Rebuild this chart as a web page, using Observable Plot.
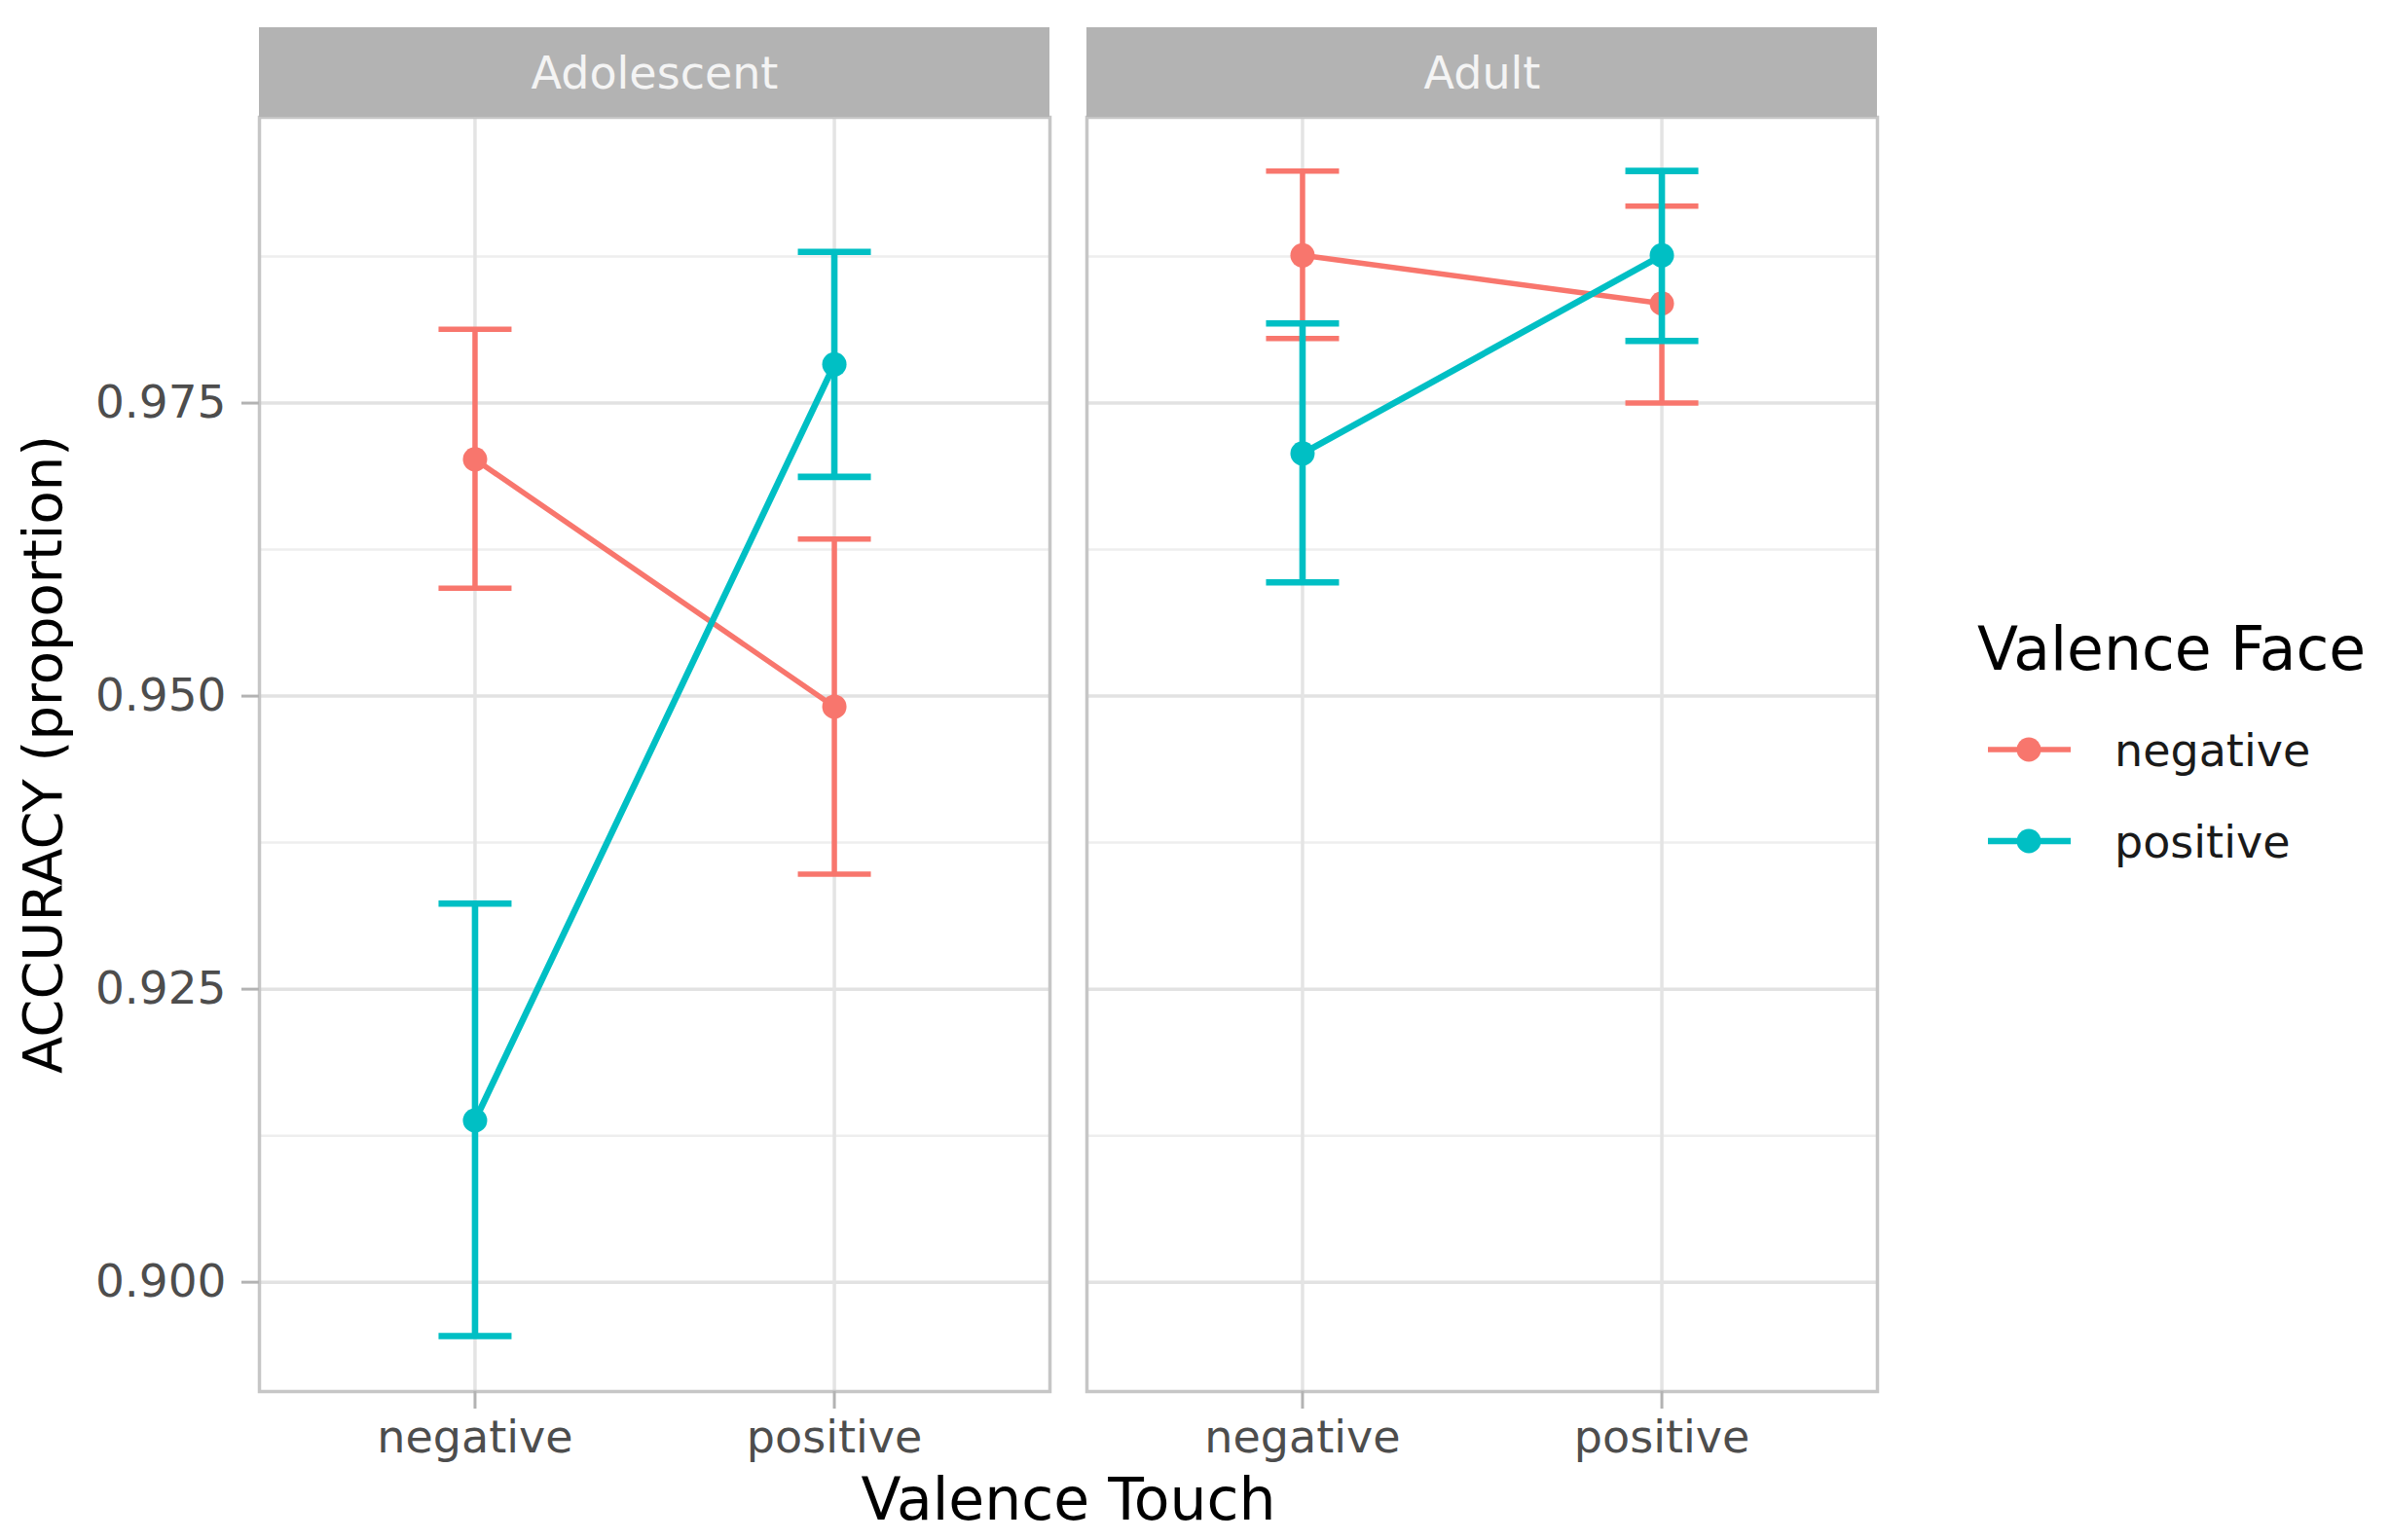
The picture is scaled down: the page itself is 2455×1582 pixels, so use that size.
<!DOCTYPE html>
<html>
<head>
<meta charset="utf-8">
<script src="https://cdn.jsdelivr.net/npm/d3@7"></script>
<script src="https://cdn.jsdelivr.net/npm/@observablehq/plot@0.6"></script>
<style>
  html, body { margin: 0; padding: 0; background: #ffffff; }
  #wrap { position: relative; width: 2455px; height: 1582px; font-family: "DejaVu Sans", sans-serif; }
  #legend { position: absolute; left: 0; top: 0; pointer-events: none; }
</style>
</head>
<body>
<div id="wrap"></div>
<script>
// ---- data ----
const panels = ["Adolescent", "Adult"];
const touchLevels = ["negative", "positive"];
const faceLevels = ["negative", "positive"];
const faceColors = ["#F8766D", "#00BFC4"];

const panel        = ["Adolescent", "Adolescent", "Adolescent", "Adolescent", "Adult", "Adult", "Adult", "Adult"];
const valenceTouch = ["negative", "positive", "negative", "positive", "negative", "positive", "negative", "positive"];
const valenceFace  = ["negative", "negative", "positive", "positive", "negative", "negative", "positive", "positive"];
const accuracy     = [0.9702, 0.9491, 0.9138, 0.9783, 0.9876, 0.9835, 0.9707, 0.9876];
const ciLow        = [0.9592, 0.9348, 0.8954, 0.9687, 0.9805, 0.9750, 0.9597, 0.9803];
const ciHigh       = [0.9813, 0.9634, 0.9323, 0.9879, 0.9948, 0.9918, 0.9818, 0.9948];

const majorTicks = [0.900, 0.925, 0.950, 0.975];
const minorTicks = [0.9125, 0.9375, 0.9625, 0.9875];
const yDomain = [0.89067, 0.99938];

const yTitle = "ACCURACY (proportion)";
const xTitle = "Valence Touch";
const legendTitle = "Valence Face";

const rows = panel.map((p, i) => ({
  panel: p, touch: valenceTouch[i], face: valenceFace[i],
  acc: accuracy[i], lo: ciLow[i], hi: ciHigh[i]
}));

const W = 2455, H = 1582;
const mL = 266, mR = 527, mT = 120, mB = 153;
const frameH = H - mT - mB;
const capHalf = 37.5;
const widths = {negative: 5.5, positive: 6.6};
const dotR = 12.5;

// horizontal cap glyph for the error bars
const capSymbol = {
  draw(context) {
    context.moveTo(-capHalf, 0);
    context.lineTo(capHalf, 0);
  }
};

function faceMarks(face) {
  const d = rows.filter(r => r.face === face);
  const sw = widths[face];
  return [
    Plot.ruleX(d, {fx: "panel", x: "touch", y1: "lo", y2: "hi", stroke: "face", strokeWidth: sw}),
    Plot.dot(d, {fx: "panel", x: "touch", y: "lo", symbol: capSymbol, fill: "none", stroke: "face", strokeWidth: sw, r: 5}),
    Plot.dot(d, {fx: "panel", x: "touch", y: "hi", symbol: capSymbol, fill: "none", stroke: "face", strokeWidth: sw, r: 5}),
    Plot.line(d, {fx: "panel", x: "touch", y: "acc", stroke: "face", strokeWidth: sw}),
    Plot.dot(d, {fx: "panel", x: "touch", y: "acc", fill: "face", r: dotR})
  ];
}

const stripData = panels.map(p => ({panel: p}));

const chart = Plot.plot({
  width: W, height: H,
  marginLeft: mL, marginRight: mR, marginTop: mT, marginBottom: mB,
  style: {fontFamily: "DejaVu Sans", background: "#ffffff", overflow: "visible"},
  fx: {domain: panels, paddingInner: 38 / 850, paddingOuter: 0, round: false, axis: null, label: null},
  x: {type: "point", domain: touchLevels, padding: 0.6, round: false, label: null},
  y: {domain: yDomain, label: null},
  color: {domain: faceLevels, range: faceColors},
  marks: [
    Plot.ruleY(minorTicks, {y: d => d, stroke: "#eeeeee", strokeWidth: 2.5}),
    Plot.ruleY(majorTicks, {y: d => d, stroke: "#e2e2e2", strokeWidth: 3.5}),
    Plot.ruleX(touchLevels, {x: d => d, stroke: "#e4e4e4", strokeWidth: 3.5}),
    Plot.frame({stroke: "#c6c6c6", strokeWidth: 3.5}),
    Plot.rect(stripData, {fx: "panel", fill: "#b3b3b3", insetTop: -92, insetBottom: frameH}),
    Plot.text(stripData, {fx: "panel", text: "panel", frameAnchor: "top", lineAnchor: "middle", dy: -44,
      fill: "#f4f4f4", fontSize: 46}),
    Plot.axisY({ticks: majorTicks, tickFormat: d3.format(".3f"), tickSize: 18, tickPadding: 16,
      stroke: "#b3b3b3", strokeWidth: 3, fill: "#4d4d4d", fontSize: 47, label: null}),
    Plot.axisX({tickSize: 18, tickPadding: 12, stroke: "#b3b3b3", strokeWidth: 3,
      fill: "#4d4d4d", fontSize: 46, label: null}),
    Plot.text([{panel: "Adolescent", t: yTitle}], {fx: "panel", text: "t", frameAnchor: "left", dx: -221,
      rotate: -90, textAnchor: "middle", lineAnchor: "middle", fill: "#000000", fontSize: 56}),
    Plot.text([{panel: "Adolescent", t: xTitle}], {fx: "panel", text: "t", frameAnchor: "bottom-right", dx: 19, dy: 112,
      textAnchor: "middle", lineAnchor: "middle", fill: "#000000", fontSize: 60}),
    ...faceMarks("negative"),
    ...faceMarks("positive")
  ]
});

const wrap = document.getElementById("wrap");
wrap.appendChild(chart);

// ---- legend (right side) ----
const leg = d3.select(wrap).append("svg")
  .attr("id", "legend")
  .attr("width", W).attr("height", H)
  .style("font-family", "DejaVu Sans");

leg.append("text")
  .attr("x", 2031).attr("y", 688)
  .attr("font-size", 61.5).attr("fill", "#000")
  .text(legendTitle);

const keyY = [770, 864];
faceLevels.forEach((f, i) => {
  const g = leg.append("g");
  g.append("line")
    .attr("x1", 2042).attr("x2", 2127).attr("y1", keyY[i]).attr("y2", keyY[i])
    .attr("stroke", faceColors[i]).attr("stroke-width", widths[f]);
  g.append("circle")
    .attr("cx", 2084).attr("cy", keyY[i]).attr("r", dotR).attr("fill", faceColors[i]);
  g.append("text")
    .attr("x", 2172).attr("y", keyY[i] + 17)
    .attr("font-size", 46).attr("fill", "#1a1a1a")
    .text(f);
});
</script>
</body>
</html>
